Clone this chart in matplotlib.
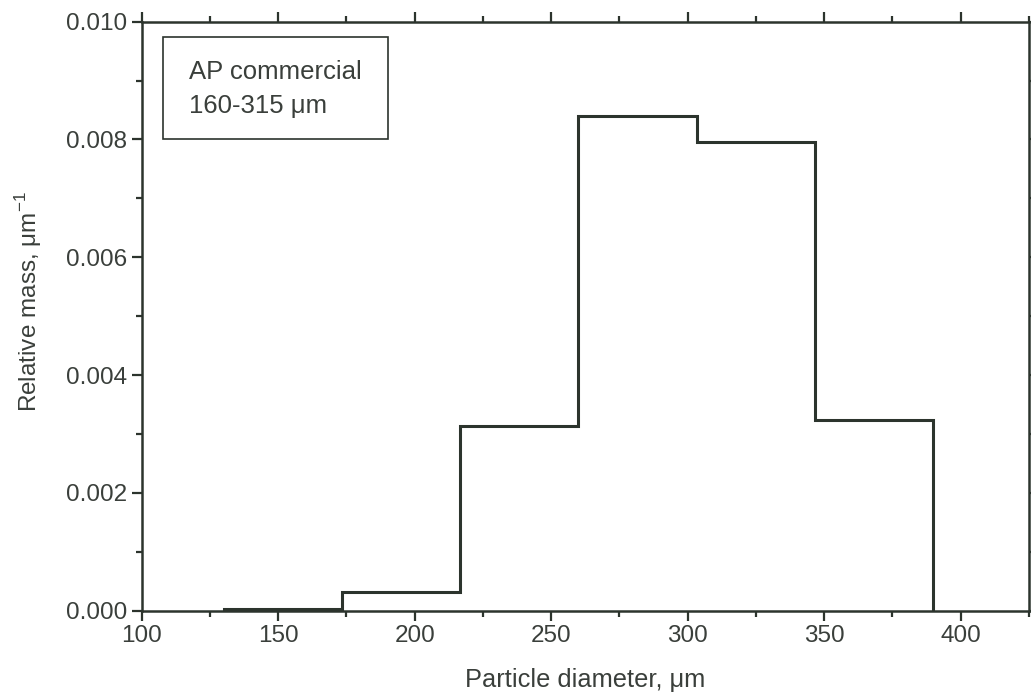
import matplotlib
matplotlib.use("Agg")
import matplotlib.pyplot as plt
from matplotlib.patches import Rectangle
from matplotlib.ticker import MultipleLocator, FormatStrFormatter

# Sieve fractions: bin edges (um) and relative mass per um
bin_edges = [130, 173.33, 216.67, 260, 303.33, 346.67, 390]
rel_mass = [0.00003, 0.00032, 0.00314, 0.00840, 0.00796, 0.00323]

x_ticks = [100, 150, 200, 250, 300, 350, 400]
y_ticks = [0.000, 0.002, 0.004, 0.006, 0.008, 0.010]
sample_lines = ["AP commercial", "160-315 \u03bcm"]

ink = "#2c342d"
txt = "#3a3f3b"

plt.rcParams["font.family"] = ["Liberation Sans", "DejaVu Sans"]
plt.rcParams["font.size"] = 17.5

fig = plt.figure(figsize=(10.31, 6.97), dpi=100)
ax = fig.add_axes([0.1374, 0.1238, 0.8606, 0.8451])

ax.stairs(rel_mass, bin_edges, color=ink, linewidth=2.2)

ax.set_xlim(100, 425)
ax.set_ylim(0, 0.010)
ax.set_xticks(x_ticks)
ax.set_yticks(y_ticks)
ax.xaxis.set_minor_locator(MultipleLocator(25))
ax.yaxis.set_minor_locator(MultipleLocator(0.001))
ax.yaxis.set_major_formatter(FormatStrFormatter("%.3f"))

for s in ax.spines.values():
    s.set_linewidth(1.8)
    s.set_color(ink)

ax.tick_params(which="both", direction="out", top=True, right=True,
               color=ink, labelcolor=txt, width=1.6)
ax.tick_params(which="major", length=7)
ax.tick_params(which="minor", length=4)
ax.tick_params(axis="x", which="major", pad=3)
ax.tick_params(axis="y", which="major", pad=3.5)

ax.set_xlabel("Particle diameter, \u03bcm", color=txt, fontsize=18.3)
ax.xaxis.set_label_coords(0.5, -0.097)
ax.set_ylabel("Relative mass, \u03bcm$^{\\mathregular{-1}}$", color=txt)
ax.yaxis.set_label_coords(-0.110, 0.524)

# Sample description box
ax.add_patch(Rectangle((0.0239, 0.801), 0.2537, 0.173, transform=ax.transAxes,
                       fill=False, edgecolor=ink, linewidth=1.2))
ax.text(0.053, 0.9146, sample_lines[0], transform=ax.transAxes, color=txt,
        va="center", ha="left", fontsize=18.5)
ax.text(0.053, 0.8567, sample_lines[1], transform=ax.transAxes, color=txt,
        va="center", ha="left", fontsize=18.5)

fig.savefig("out.png", dpi=100)
